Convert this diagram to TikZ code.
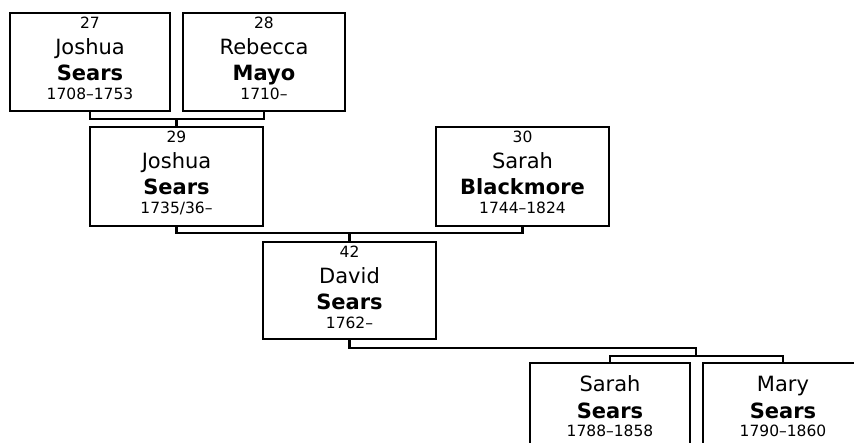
\documentclass[tikz,border=0pt]{standalone}
\usepackage{fontspec}
\setmainfont{DejaVu Sans}
\usetikzlibrary{calc}
\tikzset{
  pbox/.style={draw, line width=2.3pt, inner sep=0pt},
  conn/.style={line width=2.3pt},
  numtxt/.style={anchor=base, inner sep=0pt, font=\fontsize{15.5}{17}\selectfont},
  nametxt/.style={anchor=base, inner sep=0pt, font=\fontsize{21}{23}\selectfont},
  surtxt/.style={anchor=base, inner sep=0pt, font=\fontsize{21}{23}\selectfont\bfseries},
}
\newcommand\pfour[5]{%
  \node[numtxt]  (#1-n) at ($(#1.north)+(0,17)$) {#2};
  \node[nametxt] (#1-f) at ($(#1.north)+(0,43)$) {#3};
  \node[surtxt]  (#1-l) at ($(#1.north)+(0,69)$) {#4};
  \node[numtxt]  (#1-y) at ($(#1.north)+(0,88)$) {#5};
}
\newcommand\pthree[4]{%
  \node[nametxt] (#1-f) at ($(#1.north)+(0,30)$) {#2};
  \node[surtxt]  (#1-l) at ($(#1.north)+(0,57)$) {#3};
  \node[numtxt]  (#1-y) at ($(#1.north)+(0,75)$) {#4};
}
\begin{document}
\begin{tikzpicture}[x=1pt, y=-1pt]
\useasboundingbox (0,0) rectangle (854,443);
\clip (0,0) rectangle (854,443);
% boxes
\node[pbox, minimum width=160pt, minimum height=98pt] (p27) at (90,62) {};
\node[pbox, minimum width=162pt, minimum height=98pt] (p28) at (264,62) {};
\node[pbox, minimum width=173pt, minimum height=99pt] (p29) at (176.5,176.5) {};
\node[pbox, minimum width=173pt, minimum height=99pt] (p30) at (522.5,176.5) {};
\node[pbox, minimum width=173pt, minimum height=97pt] (p42) at (349.5,290.5) {};
\node[pbox, minimum width=160pt, minimum height=98pt] (pS) at (610,412) {};
\node[pbox, minimum width=160pt, minimum height=98pt] (pM) at (783,412) {};
% texts
\pfour{p27}{27}{Joshua}{Sears}{1708–1753}
\pfour{p28}{28}{Rebecca}{Mayo}{1710–}
\pfour{p29}{29}{Joshua}{Sears}{1735/36–}
\pfour{p30}{30}{Sarah}{Blackmore}{1744–1824}
\pfour{p42}{42}{David}{Sears}{1762–}
\pthree{pS}{Sarah}{Sears}{1788–1858}
\pthree{pM}{Mary}{Sears}{1790–1860}
% connectors
\coordinate (j1) at (p29.north |- 0,119);
\coordinate (j2) at (p42.north |- 0,233);
\coordinate (j3) at (696,348);
\coordinate (j4) at (696,356);
\draw[conn] (p27.south) |- (j1) -| (p28.south);
\draw[conn] (j1) -- (p29.north);
\draw[conn] (p29.south) |- (j2) -| (p30.south);
\draw[conn] (j2) -- (p42.north);
\draw[conn] (p42.south) |- (j3) -- (j4);
\draw[conn] (pS.north) |- (j4) -| (pM.north);
\end{tikzpicture}
\end{document}
